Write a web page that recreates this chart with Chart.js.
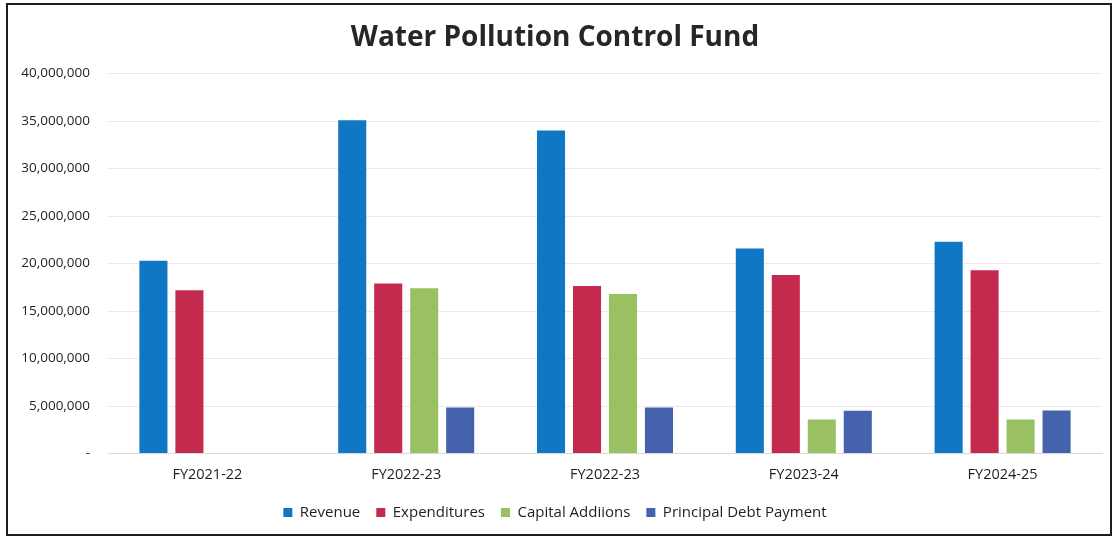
<!DOCTYPE html>
<html>
<head>
<meta charset="utf-8">
<script src="https://cdn.jsdelivr.net/npm/chart.js@4.4.1/dist/chart.umd.min.js"></script>
<style>
  html, body { margin: 0; padding: 0; background: #fff; }
  .frame {
    position: absolute; left: 6px; top: 3px;
    width: 1102px; height: 529px;
    border: 2px solid #1e1e1e;
  }
  canvas { display: block; }
</style>
</head>
<body>
<div class="frame"><canvas id="chart" width="1102" height="529"></canvas></div>
<script>
const years = ["FY2021-22", "FY2022-23", "FY2022-23", "FY2023-24", "FY2024-25"]
const revenue = [20300000, 35100000, 34000000, 21600000, 22300000]
const expenditures = [17200000, 17900000, 17650000, 18800000, 19300000]
const capitalAdditions = [null, 17400000, 16800000, 3600000, 3600000]
const principalDebt = [null, 4850000, 4850000, 4500000, 4550000]

const font = "'Open Sans', 'Noto Sans', sans-serif"

const bar = (label, data, color) => ({
  label,
  data,
  backgroundColor: color,
  categoryPercentage: 0.724,
  barPercentage: 0.78
})

new Chart(document.getElementById("chart"), {
  type: "bar",
  data: {
    labels: years,
    datasets: [
      bar("Revenue", revenue, "#0f77c3"),
      bar("Expenditures", expenditures, "#c42a4d"),
      bar("Capital Addiions", capitalAdditions, "#99c162"),
      bar("Principal Debt Payment", principalDebt, "#4562ad")
    ]
  },
  options: {
    responsive: false,
    animation: false,
    layout: { padding: { left: 0, right: 8, top: 0, bottom: 4 } },
    plugins: {
      title: {
        display: true,
        text: "Water Pollution Control Fund",
        color: "#262626",
        font: { family: font, size: 28, weight: "bold" },
        padding: { top: 16, bottom: 19 }
      },
      legend: {
        position: "bottom",
        labels: {
          color: "#1f1f1f",
          font: { family: font, size: 15 },
          boxWidth: 9,
          boxHeight: 9,
          padding: 16
        }
      },
      tooltip: { enabled: false }
    },
    scales: {
      x: {
        grid: { display: false },
        border: { color: "#d9d9d9" },
        ticks: { color: "#1f1f1f", font: { family: font, size: 14.5 }, padding: 5 }
      },
      y: {
        min: 0,
        max: 40000000,
        afterFit: s => { s.width = 100 },
        border: { display: false },
        grid: { color: "#ebebeb", drawTicks: false },
        ticks: {
          stepSize: 5000000,
          padding: 18,
          color: "#1f1f1f",
          font: { family: font, size: 13.5 },
          callback: v => v === 0 ? "-" : v.toLocaleString("en-US")
        }
      }
    }
  }
})
</script>
</body>
</html>
